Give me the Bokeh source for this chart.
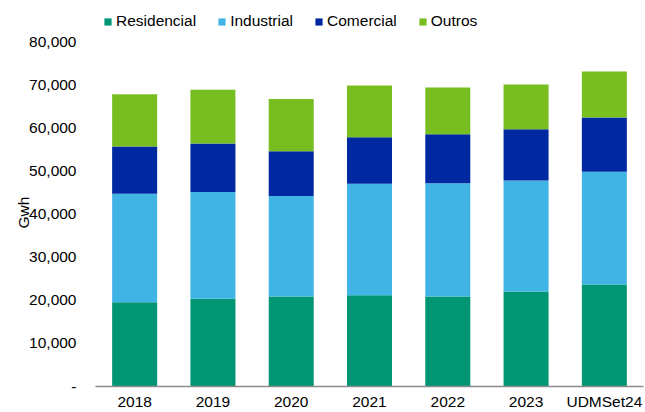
from bokeh.plotting import figure
from bokeh.models import (ColumnDataSource, FactorRange, Range1d, FixedTicker,
                          NumeralTickFormatter, Legend, LegendItem, Title)
from bokeh.embed import file_html
from bokeh.resources import INLINE

categories = ["2018", "2019", "2020", "2021", "2022", "2023", "UDMSet24"]
series = ["Residencial", "Industrial", "Comercial", "Outros"]
residencial = [19600, 20400, 20900, 21200, 20900, 22100, 23700]
industrial = [25200, 24800, 23400, 25900, 26350, 25800, 26200]
comercial = [11000, 11300, 10400, 10800, 11350, 11900, 12600]
outros = [12150, 12450, 12100, 12050, 10900, 10400, 10700]
colors = ["#009673", "#41B4E6", "#0028A0", "#78BE20"]
y_ticks = [0, 10000, 20000, 30000, 40000, 50000, 60000, 70000, 80000]

FONT = "Liberation Sans"
FS = "15.5px"

# layout: value axis 0..80000 spans 346px, frame reaches the top of the canvas
FRAME_H = 388
AXIS_PX = 346
y_max = y_ticks[-1] * FRAME_H / AXIS_PX

src = ColumnDataSource(dict(cat=categories, Residencial=residencial,
                            Industrial=industrial, Comercial=comercial,
                            Outros=outros))

p = figure(width=645, height=412, output_backend="svg", toolbar_location=None,
           x_range=FactorRange(*categories, range_padding=0),
           y_range=Range1d(0, y_max),
           min_border_left=95, min_border_right=2,
           min_border_top=0, min_border_bottom=24)
p.outline_line_color = None
p.xgrid.visible = False
p.ygrid.visible = False
p.background_fill_color = "white"
p.border_fill_color = "white"

renderers = p.vbar_stack(series, x="cat", width=0.575, color=colors,
                         line_color=None, source=src)

# y axis
p.yaxis.ticker = FixedTicker(ticks=y_ticks)
p.yaxis.formatter = NumeralTickFormatter(format="0,0")
p.yaxis.major_label_overrides = {0: "-"}
p.yaxis.axis_line_color = None
p.yaxis.major_tick_out = 0
p.yaxis.major_tick_in = 0
p.yaxis.minor_tick_out = 0
p.yaxis.minor_tick_in = 0
p.yaxis.major_label_standoff = 19
p.yaxis.major_label_text_font = FONT
p.yaxis.major_label_text_font_size = FS
p.yaxis.major_label_text_color = "#000000"

# y axis title, centred on the 0..80000 span
p.add_layout(Title(text="Gwh", align="left", offset=158, standoff=-10,
                   text_font=FONT, text_font_size=FS, text_font_style="normal",
                   text_color="#000000"), "left")

# x axis
p.xaxis.axis_line_color = "#8c8c8c"
p.xaxis.axis_line_width = 1.5
p.xaxis.major_tick_out = 0
p.xaxis.major_tick_in = 0
p.xaxis.minor_tick_out = 0
p.xaxis.major_label_standoff = 6
p.xaxis.major_label_text_font = FONT
p.xaxis.major_label_text_font_size = FS
p.xaxis.major_label_text_color = "#000000"

legend = Legend(items=[LegendItem(label=s, renderers=[r]) for s, r in zip(series, renderers)],
                location=(8, 356), orientation="horizontal",
                glyph_width=9, glyph_height=9, label_standoff=4, spacing=21,
                padding=0, margin=0, border_line_color=None,
                background_fill_alpha=0,
                label_text_font=FONT, label_text_font_size=FS,
                label_text_color="#000000")
p.add_layout(legend)

open("out.html", "w").write(file_html(p, INLINE))
